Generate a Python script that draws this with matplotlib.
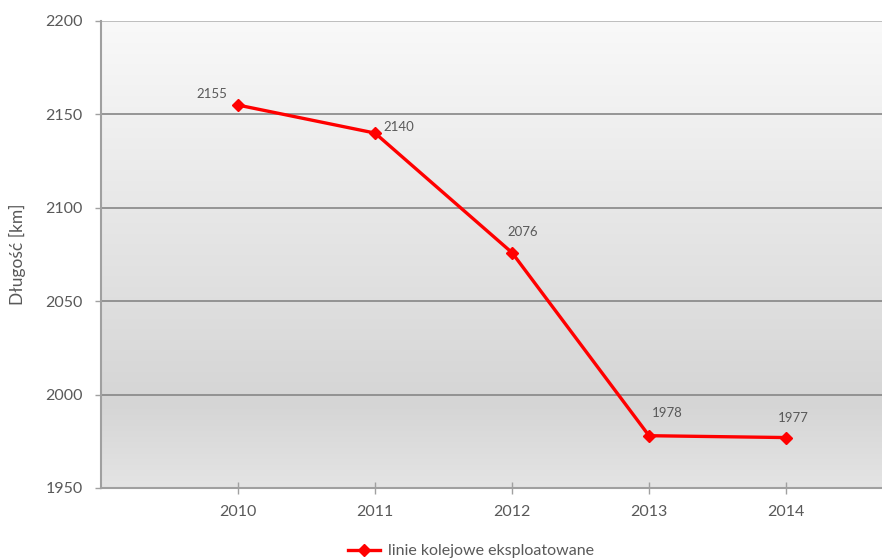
import numpy as np
import matplotlib
matplotlib.use("Agg")
import matplotlib.pyplot as plt
from matplotlib.colors import LinearSegmentedColormap

# Data
years = [2010, 2011, 2012, 2013, 2014]
lengths = [2155, 2140, 2076, 1978, 1977]
series_name = "linie kolejowe eksploatowane"
y_ticks = [1950, 2000, 2050, 2100, 2150, 2200]
y_label = "Długość [km]"

# Label offsets (points) for each value label
label_offsets = [(-19, 8), (17, 4.5), (7.5, 14.5), (13, 16), (5, 14)]

text_color = "#595959"
grid_color = "#868686"
plt.rcParams["font.family"] = ["Lato", "DejaVu Sans"]

W, H = 882, 559
fig = plt.figure(figsize=(W / 100, H / 100), dpi=100)
fig.patch.set_facecolor("white")

left, right, top, bottom = 101, 923, 21, 488
ax = fig.add_axes([left / W, (H - bottom) / H, (right - left) / W, (bottom - top) / H])

# Vertical gradient background of the plot area
cmap = LinearSegmentedColormap.from_list(
    "bg", [(0.0, "#f9f9f9"), (0.82, "#d5d5d5"), (1.0, "#e4e4e4")]
)
grad = np.linspace(0, 1, 256).reshape(-1, 1)
ax.imshow(grad, cmap=cmap, aspect="auto", extent=[0, 1, 0, 1],
          transform=ax.transAxes, zorder=0, interpolation="bilinear")

ax.set_xlim(2009, 2015)
ax.set_ylim(1950, 2200)

# Horizontal gridlines
for yv in y_ticks:
    ax.axhline(yv, color=grid_color if yv != 2200 else "#b4b4b4", lw=1.2, zorder=1)

ax.plot(years, lengths, color="#ff0000", lw=2.4, marker="D", ms=6.5,
        markeredgecolor="#ff0000", markerfacecolor="#ff0000", zorder=3,
        label=series_name)

for x, y, (dx, dy) in zip(years, lengths, label_offsets):
    ax.annotate(str(y), (x, y), xytext=(dx, dy), textcoords="offset points",
                ha="center", va="center", fontsize=9.5, color=text_color, zorder=4)

ax.set_yticks(y_ticks)
ax.set_xticks(years)
ax.set_xticklabels([str(y) for y in years])

for side in ["top", "right"]:
    ax.spines[side].set_visible(False)
ax.spines["left"].set_color("#a0a0a0")
ax.spines["left"].set_linewidth(1.5)
ax.spines["bottom"].set_color("#a0a0a0")
ax.spines["bottom"].set_linewidth(1.5)

ax.tick_params(axis="y", direction="out", length=4, width=1, color="#a0a0a0",
               pad=9, labelsize=11.5, labelcolor=text_color)
ax.tick_params(axis="x", direction="inout", length=8, width=1, color="#a0a0a0",
               pad=8, labelsize=11.5, labelcolor=text_color)

ax.set_ylabel(y_label, fontsize=12.5, color=text_color)
ax.yaxis.set_label_coords(-0.0915, 0.5)

leg = fig.legend(loc="center", bbox_to_anchor=(471 / W, 1 - 551 / H),
                 frameon=False, fontsize=11.5, handlelength=2.0, handletextpad=0.5,
                 labelcolor=text_color)

fig.savefig("out.png", dpi=100)
